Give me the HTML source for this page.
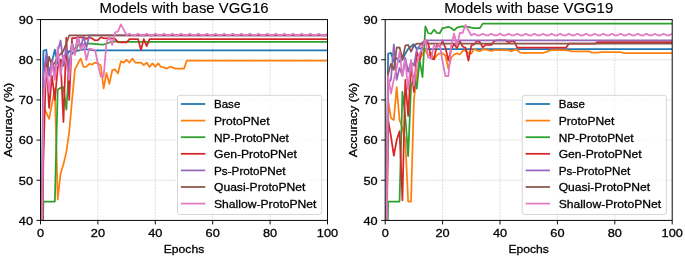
<!DOCTYPE html>
<html><head><meta charset="utf-8"><style>html,body{margin:0;padding:0;background:#fff;width:685px;height:258px;overflow:hidden}svg{display:block;will-change:transform}</style></head>
<body><svg width="685" height="258" viewBox="0 0 685 258">
<rect width="685" height="258" fill="#fff"/>
<clipPath id="c0"><rect x="40.5" y="19.6" width="287.0" height="200.8"/></clipPath>
<path d="M40.50 19.6V220.4M97.90 19.6V220.4M155.30 19.6V220.4M212.70 19.6V220.4M270.10 19.6V220.4M327.50 19.6V220.4M40.5 220.40H327.5M40.5 180.24H327.5M40.5 140.08H327.5M40.5 99.92H327.5M40.5 59.76H327.5M40.5 19.60H327.5" stroke="#b0b0b0" stroke-opacity="0.45" stroke-width="0.9" stroke-dasharray="2.2 0.9" fill="none"/>
<g clip-path="url(#c0)" fill="none" stroke-width="1.75" stroke-linejoin="round" stroke-linecap="butt">
<path d="M40.50,379.03 43.37,50.92 46.24,49.72 49.11,73.82 51.98,61.77 54.85,49.72 57.72,63.78 60.59,59.36 63.46,65.78 66.33,56.55 69.20,50.92 72.07,53.74 74.94,51.33 77.81,50.52 80.68,50.12 83.55,49.32 86.42,49.32 89.29,49.72 92.16,50.12 95.03,50.52 97.90,50.40 100.77,50.40 103.64,50.40 106.51,50.40 109.38,50.40 112.25,50.40 115.12,50.40 117.99,50.40 120.86,50.40 123.73,50.40 126.60,50.40 129.47,50.40 132.34,50.40 135.21,50.40 138.08,50.40 140.95,50.40 143.82,50.40 146.69,50.40 149.56,50.40 152.43,50.40 155.30,50.40 158.17,50.40 161.04,50.40 163.91,50.40 166.78,50.40 169.65,50.40 172.52,50.40 175.39,50.40 178.26,50.40 181.13,50.40 184.00,50.40 186.87,50.40 189.74,50.40 192.61,50.40 195.48,50.40 198.35,50.40 201.22,50.40 204.09,50.40 206.96,50.40 209.83,50.40 212.70,50.40 215.57,50.40 218.44,50.40 221.31,50.40 224.18,50.40 227.05,50.40 229.92,50.40 232.79,50.40 235.66,50.40 238.53,50.40 241.40,50.40 244.27,50.40 247.14,50.40 250.01,50.40 252.88,50.40 255.75,50.40 258.62,50.40 261.49,50.40 264.36,50.40 267.23,50.40 270.10,50.40 272.97,50.40 275.84,50.40 278.71,50.40 281.58,50.40 284.45,50.40 287.32,50.40 290.19,50.40 293.06,50.40 295.93,50.40 298.80,50.40 301.67,50.40 304.54,50.40 307.41,50.40 310.28,50.40 313.15,50.40 316.02,50.40 318.89,50.40 321.76,50.40 324.63,50.40 327.50,50.40" stroke="#1f77b4"/>
<path d="M40.50,379.03 43.37,106.35 46.24,112.37 49.11,118.80 51.98,103.94 54.85,88.68 57.72,199.52 60.59,173.41 63.46,164.18 66.33,152.13 69.20,132.05 72.07,99.92 74.94,69.40 77.81,63.78 80.68,58.56 83.55,66.99 86.42,66.59 89.29,63.78 92.16,64.58 95.03,62.57 97.90,63.37 100.77,65.38 103.64,88.27 106.51,73.01 109.38,83.86 112.25,70.20 115.12,69.40 117.99,73.41 120.86,61.37 123.73,62.57 126.60,59.76 129.47,62.57 132.34,58.56 135.21,62.57 138.08,62.57 140.95,62.57 143.82,64.98 146.69,62.57 149.56,66.99 152.43,63.37 155.30,66.59 158.17,63.37 161.04,66.99 163.91,67.39 166.78,68.60 169.65,66.99 172.52,67.39 175.39,68.60 178.26,68.60 181.13,68.60 184.00,68.60 186.87,60.56 189.74,60.56 192.61,60.56 195.48,60.56 198.35,60.56 201.22,60.56 204.09,60.56 206.96,60.56 209.83,60.56 212.70,60.56 215.57,60.56 218.44,60.56 221.31,60.56 224.18,60.56 227.05,60.56 229.92,60.56 232.79,60.56 235.66,60.56 238.53,60.56 241.40,60.56 244.27,60.56 247.14,60.56 250.01,60.56 252.88,60.56 255.75,60.56 258.62,60.56 261.49,60.56 264.36,60.56 267.23,60.56 270.10,60.56 272.97,60.56 275.84,60.56 278.71,60.56 281.58,60.56 284.45,60.56 287.32,60.56 290.19,60.56 293.06,60.56 295.93,60.56 298.80,60.56 301.67,60.56 304.54,60.56 307.41,60.56 310.28,60.56 313.15,60.56 316.02,60.56 318.89,60.56 321.76,60.56 324.63,60.56 327.50,60.56" stroke="#ff7f0e"/>
<path d="M40.50,379.03 43.37,201.52 46.24,201.52 49.11,201.52 51.98,201.52 54.85,201.52 57.72,89.48 60.59,87.87 63.46,87.07 66.33,109.56 69.20,67.79 72.07,42.49 74.94,53.74 77.81,45.30 80.68,44.50 83.55,44.10 86.42,43.70 89.29,43.70 92.16,43.70 95.03,44.10 97.90,44.10 100.77,44.50 103.64,44.50 106.51,43.70 109.38,42.49 112.25,41.69 115.12,41.29 117.99,41.89 120.86,41.89 123.73,41.89 126.60,41.89 129.47,41.89 132.34,41.89 135.21,41.89 138.08,41.89 140.95,41.89 143.82,41.89 146.69,41.89 149.56,41.89 152.43,41.89 155.30,41.89 158.17,41.89 161.04,41.89 163.91,41.89 166.78,41.89 169.65,41.89 172.52,41.89 175.39,41.89 178.26,41.89 181.13,41.89 184.00,41.89 186.87,41.89 189.74,41.89 192.61,41.89 195.48,41.89 198.35,41.89 201.22,41.89 204.09,41.89 206.96,41.89 209.83,41.89 212.70,41.89 215.57,41.89 218.44,41.89 221.31,41.89 224.18,41.89 227.05,41.89 229.92,41.89 232.79,41.89 235.66,41.89 238.53,41.89 241.40,41.89 244.27,41.89 247.14,41.89 250.01,41.89 252.88,41.89 255.75,41.89 258.62,41.89 261.49,41.89 264.36,41.89 267.23,41.89 270.10,41.89 272.97,41.89 275.84,41.89 278.71,41.89 281.58,41.89 284.45,41.89 287.32,41.89 290.19,41.89 293.06,41.89 295.93,41.89 298.80,41.89 301.67,41.89 304.54,41.89 307.41,41.89 310.28,41.89 313.15,41.89 316.02,41.89 318.89,41.89 321.76,41.89 324.63,41.89 327.50,41.89" stroke="#2ca02c"/>
<path d="M40.50,379.03 43.37,160.16 46.24,59.76 49.11,107.95 51.98,75.82 54.85,99.92 57.72,67.79 60.59,59.76 63.46,122.01 66.33,37.67 69.20,99.92 72.07,38.07 74.94,38.07 77.81,37.27 80.68,37.27 83.55,37.27 86.42,38.88 89.29,37.27 92.16,38.48 95.03,40.48 97.90,40.08 100.77,37.27 103.64,38.07 106.51,38.48 109.38,38.48 112.25,38.48 115.12,38.88 117.99,42.09 120.86,42.49 123.73,42.49 126.60,42.49 129.47,39.08 132.34,39.08 135.21,39.08 138.08,39.08 140.95,50.12 143.82,39.08 146.69,46.11 149.56,39.08 152.43,39.08 155.30,39.08 158.17,39.08 161.04,39.08 163.91,39.08 166.78,39.08 169.65,39.08 172.52,39.08 175.39,39.08 178.26,39.08 181.13,39.08 184.00,39.08 186.87,39.08 189.74,39.08 192.61,39.08 195.48,39.08 198.35,39.08 201.22,39.08 204.09,39.08 206.96,39.08 209.83,39.08 212.70,39.08 215.57,39.08 218.44,39.08 221.31,39.08 224.18,39.08 227.05,39.08 229.92,39.08 232.79,39.08 235.66,39.08 238.53,39.08 241.40,39.08 244.27,39.08 247.14,39.08 250.01,39.08 252.88,39.08 255.75,39.08 258.62,39.08 261.49,39.08 264.36,39.08 267.23,39.08 270.10,39.08 272.97,39.08 275.84,39.08 278.71,39.08 281.58,39.08 284.45,39.08 287.32,39.08 290.19,39.08 293.06,39.08 295.93,39.08 298.80,39.08 301.67,39.08 304.54,39.08 307.41,39.08 310.28,39.08 313.15,39.08 316.02,39.08 318.89,39.08 321.76,39.08 324.63,39.08 327.50,39.08" stroke="#d62728"/>
<path d="M40.50,379.03 43.37,75.82 46.24,53.74 49.11,75.82 51.98,59.76 54.85,71.81 57.72,51.73 60.59,40.48 63.46,63.78 66.33,47.71 69.20,67.79 72.07,43.70 74.94,51.33 77.81,36.47 80.68,47.31 83.55,36.47 86.42,47.71 89.29,35.46 92.16,35.46 95.03,35.46 97.90,35.46 100.77,35.46 103.64,35.46 106.51,35.46 109.38,35.46 112.25,35.46 115.12,35.46 117.99,35.46 120.86,35.46 123.73,35.46 126.60,35.46 129.47,35.46 132.34,35.46 135.21,35.46 138.08,35.46 140.95,35.46 143.82,35.46 146.69,35.46 149.56,35.46 152.43,35.46 155.30,35.46 158.17,35.46 161.04,35.46 163.91,35.46 166.78,35.46 169.65,35.46 172.52,35.46 175.39,35.46 178.26,35.46 181.13,35.46 184.00,35.46 186.87,35.46 189.74,35.46 192.61,35.46 195.48,35.46 198.35,35.46 201.22,35.46 204.09,35.46 206.96,35.46 209.83,35.46 212.70,35.46 215.57,35.46 218.44,35.46 221.31,35.46 224.18,35.46 227.05,35.46 229.92,35.46 232.79,35.46 235.66,35.46 238.53,35.46 241.40,35.46 244.27,35.46 247.14,35.46 250.01,35.46 252.88,35.46 255.75,35.46 258.62,35.46 261.49,35.46 264.36,35.46 267.23,35.46 270.10,35.46 272.97,35.46 275.84,35.46 278.71,35.46 281.58,35.46 284.45,35.46 287.32,35.46 290.19,35.46 293.06,35.46 295.93,35.46 298.80,35.46 301.67,35.46 304.54,35.46 307.41,35.46 310.28,35.46 313.15,35.46 316.02,35.46 318.89,35.46 321.76,35.46 324.63,35.46 327.50,35.46" stroke="#9467bd"/>
<path d="M40.50,379.03 43.37,91.89 46.24,75.82 49.11,56.55 51.98,65.78 54.85,62.97 57.72,56.55 60.59,54.14 63.46,50.92 66.33,43.29 69.20,35.46 72.07,35.46 74.94,35.46 77.81,35.46 80.68,35.46 83.55,35.46 86.42,35.46 89.29,35.46 92.16,35.46 95.03,35.46 97.90,35.46 100.77,35.46 103.64,35.46 106.51,35.46 109.38,35.46 112.25,35.46 115.12,35.46 117.99,35.46 120.86,35.46 123.73,35.46 126.60,35.46 129.47,35.46 132.34,35.46 135.21,35.46 138.08,35.46 140.95,35.46 143.82,35.46 146.69,35.46 149.56,35.46 152.43,35.46 155.30,35.46 158.17,35.46 161.04,35.46 163.91,35.46 166.78,35.46 169.65,35.46 172.52,35.46 175.39,35.46 178.26,35.46 181.13,35.46 184.00,35.46 186.87,35.46 189.74,35.46 192.61,35.46 195.48,35.46 198.35,35.46 201.22,35.46 204.09,35.46 206.96,35.46 209.83,35.46 212.70,35.46 215.57,35.46 218.44,35.46 221.31,35.46 224.18,35.46 227.05,35.46 229.92,35.46 232.79,35.46 235.66,35.46 238.53,35.46 241.40,35.46 244.27,35.46 247.14,35.46 250.01,35.46 252.88,35.46 255.75,35.46 258.62,35.46 261.49,35.46 264.36,35.46 267.23,35.46 270.10,35.46 272.97,35.46 275.84,35.46 278.71,35.46 281.58,35.46 284.45,35.46 287.32,35.46 290.19,35.46 293.06,35.46 295.93,35.46 298.80,35.46 301.67,35.46 304.54,35.46 307.41,35.46 310.28,35.46 313.15,35.46 316.02,35.46 318.89,35.46 321.76,35.46 324.63,35.46 327.50,35.46" stroke="#8c564b"/>
<path d="M40.50,379.03 43.37,99.92 46.24,67.79 49.11,91.89 51.98,62.97 54.85,79.84 57.72,47.31 60.59,75.82 63.46,55.74 66.33,63.78 69.20,79.84 72.07,44.10 74.94,54.94 77.81,37.27 80.68,50.12 83.55,43.70 86.42,60.16 89.29,48.52 92.16,49.32 95.03,50.12 97.90,63.78 100.77,76.63 103.64,76.63 106.51,42.09 109.38,37.27 112.25,44.90 115.12,32.25 117.99,31.65 120.86,24.42 123.73,29.64 126.60,35.26 129.47,33.66 132.34,35.26 135.21,35.26 138.08,33.66 140.95,35.26 143.82,35.26 146.69,33.66 149.56,35.26 152.43,35.26 155.30,33.66 158.17,35.26 161.04,35.26 163.91,33.66 166.78,35.26 169.65,35.26 172.52,33.66 175.39,35.26 178.26,35.26 181.13,33.66 184.00,35.26 186.87,35.26 189.74,33.66 192.61,35.26 195.48,35.26 198.35,33.66 201.22,35.26 204.09,35.26 206.96,33.66 209.83,35.26 212.70,35.26 215.57,33.66 218.44,35.26 221.31,35.26 224.18,33.66 227.05,35.26 229.92,35.26 232.79,33.66 235.66,35.26 238.53,35.26 241.40,33.66 244.27,35.26 247.14,35.26 250.01,33.66 252.88,35.26 255.75,35.26 258.62,33.66 261.49,35.26 264.36,35.26 267.23,33.66 270.10,35.26 272.97,35.26 275.84,33.66 278.71,35.26 281.58,35.26 284.45,33.66 287.32,35.26 290.19,35.26 293.06,33.66 295.93,35.26 298.80,35.26 301.67,33.66 304.54,35.26 307.41,35.26 310.28,33.66 313.15,35.26 316.02,35.26 318.89,33.66 321.76,35.26 324.63,35.26 327.50,33.66" stroke="#e377c2"/>
</g>
<path d="M40.50 220.4v4M97.90 220.4v4M155.30 220.4v4M212.70 220.4v4M270.10 220.4v4M327.50 220.4v4M40.5 220.40h-4M40.5 180.24h-4M40.5 140.08h-4M40.5 99.92h-4M40.5 59.76h-4M40.5 19.60h-4" stroke="#000" stroke-width="0.95" fill="none"/>
<rect x="40.5" y="19.6" width="287.0" height="200.8" fill="none" stroke="#000" stroke-width="0.95"/>
<text x="40.50" y="236.8" text-anchor="middle" font-family="Liberation Sans, sans-serif" stroke="#000" stroke-width="0.3" font-size="11.8" textLength="7.1" lengthAdjust="spacingAndGlyphs">0</text>
<text x="97.90" y="236.8" text-anchor="middle" font-family="Liberation Sans, sans-serif" stroke="#000" stroke-width="0.3" font-size="11.8" textLength="14.2" lengthAdjust="spacingAndGlyphs">20</text>
<text x="155.30" y="236.8" text-anchor="middle" font-family="Liberation Sans, sans-serif" stroke="#000" stroke-width="0.3" font-size="11.8" textLength="14.2" lengthAdjust="spacingAndGlyphs">40</text>
<text x="212.70" y="236.8" text-anchor="middle" font-family="Liberation Sans, sans-serif" stroke="#000" stroke-width="0.3" font-size="11.8" textLength="14.2" lengthAdjust="spacingAndGlyphs">60</text>
<text x="270.10" y="236.8" text-anchor="middle" font-family="Liberation Sans, sans-serif" stroke="#000" stroke-width="0.3" font-size="11.8" textLength="14.2" lengthAdjust="spacingAndGlyphs">80</text>
<text x="327.50" y="236.8" text-anchor="middle" font-family="Liberation Sans, sans-serif" stroke="#000" stroke-width="0.3" font-size="11.8" textLength="21.3" lengthAdjust="spacingAndGlyphs">100</text>
<text x="33.00" y="224.70" text-anchor="end" font-family="Liberation Sans, sans-serif" stroke="#000" stroke-width="0.3" font-size="11.8" textLength="14.2" lengthAdjust="spacingAndGlyphs">40</text>
<text x="33.00" y="184.54" text-anchor="end" font-family="Liberation Sans, sans-serif" stroke="#000" stroke-width="0.3" font-size="11.8" textLength="14.2" lengthAdjust="spacingAndGlyphs">50</text>
<text x="33.00" y="144.38" text-anchor="end" font-family="Liberation Sans, sans-serif" stroke="#000" stroke-width="0.3" font-size="11.8" textLength="14.2" lengthAdjust="spacingAndGlyphs">60</text>
<text x="33.00" y="104.22" text-anchor="end" font-family="Liberation Sans, sans-serif" stroke="#000" stroke-width="0.3" font-size="11.8" textLength="14.2" lengthAdjust="spacingAndGlyphs">70</text>
<text x="33.00" y="64.06" text-anchor="end" font-family="Liberation Sans, sans-serif" stroke="#000" stroke-width="0.3" font-size="11.8" textLength="14.2" lengthAdjust="spacingAndGlyphs">80</text>
<text x="33.00" y="23.90" text-anchor="end" font-family="Liberation Sans, sans-serif" stroke="#000" stroke-width="0.3" font-size="11.8" textLength="14.2" lengthAdjust="spacingAndGlyphs">90</text>
<text x="184.00" y="12.9" text-anchor="middle" font-family="Liberation Sans, sans-serif" stroke="#000" stroke-width="0.12" font-size="13.9" textLength="169" lengthAdjust="spacingAndGlyphs">Models with base VGG16</text>
<text x="184.00" y="252.5" text-anchor="middle" font-family="Liberation Sans, sans-serif" stroke="#000" stroke-width="0.3" font-size="11.8" textLength="40.5" lengthAdjust="spacingAndGlyphs">Epochs</text>
<text transform="translate(12.30,120) rotate(-90)" x="0" y="0" text-anchor="middle" font-family="Liberation Sans, sans-serif" stroke="#000" stroke-width="0.3" font-size="11.8" textLength="74.5" lengthAdjust="spacingAndGlyphs">Accuracy (%)</text>
<rect x="177.5" y="95.3" width="144.2" height="119.2" rx="2.5" fill="#fff" fill-opacity="0.8" stroke="#d4d4d4" stroke-width="0.95"/>
<path d="M180.90 104.00h24.4" stroke="#1f77b4" stroke-width="1.75"/>
<text x="214.00" y="108.30" font-family="Liberation Sans, sans-serif" stroke="#000" stroke-width="0.3" font-size="11.8" textLength="26.3" lengthAdjust="spacingAndGlyphs">Base</text>
<path d="M180.90 120.60h24.4" stroke="#ff7f0e" stroke-width="1.75"/>
<text x="214.00" y="124.90" font-family="Liberation Sans, sans-serif" stroke="#000" stroke-width="0.3" font-size="11.8" textLength="55.6" lengthAdjust="spacingAndGlyphs">ProtoPNet</text>
<path d="M180.90 137.20h24.4" stroke="#2ca02c" stroke-width="1.75"/>
<text x="214.00" y="141.50" font-family="Liberation Sans, sans-serif" stroke="#000" stroke-width="0.3" font-size="11.8" textLength="74.8" lengthAdjust="spacingAndGlyphs">NP-ProtoPNet</text>
<path d="M180.90 153.80h24.4" stroke="#d62728" stroke-width="1.75"/>
<text x="214.00" y="158.10" font-family="Liberation Sans, sans-serif" stroke="#000" stroke-width="0.3" font-size="11.8" textLength="82.9" lengthAdjust="spacingAndGlyphs">Gen-ProtoPNet</text>
<path d="M180.90 170.40h24.4" stroke="#9467bd" stroke-width="1.75"/>
<text x="214.00" y="174.70" font-family="Liberation Sans, sans-serif" stroke="#000" stroke-width="0.3" font-size="11.8" textLength="71.6" lengthAdjust="spacingAndGlyphs">Ps-ProtoPNet</text>
<path d="M180.90 187.00h24.4" stroke="#8c564b" stroke-width="1.75"/>
<text x="214.00" y="191.30" font-family="Liberation Sans, sans-serif" stroke="#000" stroke-width="0.3" font-size="11.8" textLength="91.4" lengthAdjust="spacingAndGlyphs">Quasi-ProtoPNet</text>
<path d="M180.90 203.60h24.4" stroke="#e377c2" stroke-width="1.75"/>
<text x="214.00" y="207.90" font-family="Liberation Sans, sans-serif" stroke="#000" stroke-width="0.3" font-size="11.8" textLength="102.5" lengthAdjust="spacingAndGlyphs">Shallow-ProtoPNet</text>
<clipPath id="c1"><rect x="385.2" y="19.6" width="287.0" height="200.8"/></clipPath>
<path d="M385.20 19.6V220.4M442.60 19.6V220.4M500.00 19.6V220.4M557.40 19.6V220.4M614.80 19.6V220.4M672.20 19.6V220.4M385.2 220.40H672.2M385.2 180.24H672.2M385.2 140.08H672.2M385.2 99.92H672.2M385.2 59.76H672.2M385.2 19.60H672.2" stroke="#b0b0b0" stroke-opacity="0.45" stroke-width="0.9" stroke-dasharray="2.2 0.9" fill="none"/>
<g clip-path="url(#c1)" fill="none" stroke-width="1.75" stroke-linejoin="round" stroke-linecap="butt">
<path d="M385.20,379.03 388.07,53.74 390.94,52.93 393.81,61.37 396.68,58.15 399.55,61.77 402.42,59.76 405.29,53.74 408.16,48.92 411.03,46.51 413.90,44.30 416.77,48.92 419.64,48.11 422.51,48.92 425.38,49.12 428.25,49.12 431.12,49.12 433.99,49.12 436.86,49.12 439.73,49.12 442.60,49.12 445.47,49.12 448.34,49.12 451.21,49.12 454.08,49.12 456.95,49.12 459.82,49.12 462.69,49.12 465.56,49.12 468.43,49.12 471.30,49.12 474.17,49.12 477.04,49.12 479.91,49.12 482.78,49.12 485.65,49.12 488.52,49.12 491.39,49.12 494.26,49.12 497.13,49.12 500.00,49.12 502.87,49.12 505.74,49.12 508.61,49.12 511.48,49.12 514.35,49.12 517.22,49.12 520.09,49.12 522.96,49.12 525.83,49.12 528.70,49.12 531.57,49.12 534.44,49.12 537.31,49.12 540.18,49.12 543.05,49.12 545.92,49.12 548.79,49.12 551.66,49.12 554.53,49.12 557.40,49.12 560.27,49.12 563.14,49.12 566.01,49.12 568.88,49.12 571.75,49.12 574.62,49.12 577.49,49.12 580.36,49.12 583.23,49.12 586.10,49.12 588.97,49.12 591.84,49.12 594.71,49.12 597.58,49.12 600.45,49.12 603.32,49.12 606.19,49.12 609.06,49.12 611.93,49.12 614.80,49.12 617.67,49.12 620.54,49.12 623.41,49.12 626.28,49.12 629.15,49.12 632.02,49.12 634.89,49.12 637.76,49.12 640.63,49.12 643.50,49.12 646.37,49.12 649.24,49.12 652.11,49.12 654.98,49.12 657.85,49.12 660.72,49.12 663.59,49.12 666.46,49.12 669.33,49.12 672.20,49.12" stroke="#1f77b4"/>
<path d="M385.20,379.03 388.07,99.92 390.94,117.99 393.81,120.00 396.68,87.07 399.55,120.00 402.42,128.03 405.29,140.08 408.16,201.52 411.03,201.52 413.90,99.92 416.77,75.82 419.64,59.76 422.51,53.74 425.38,49.72 428.25,56.55 431.12,52.93 433.99,58.96 436.86,55.34 439.73,53.33 442.60,53.33 445.47,55.74 448.34,68.60 451.21,57.75 454.08,54.54 456.95,53.33 459.82,54.54 462.69,50.92 465.56,50.12 468.43,53.33 471.30,53.74 474.17,48.92 477.04,50.52 479.91,51.33 482.78,49.32 485.65,49.72 488.52,50.12 491.39,50.92 494.26,50.12 497.13,50.12 500.00,50.12 502.87,50.12 505.74,50.12 508.61,50.12 511.48,51.33 514.35,49.72 517.22,50.12 520.09,52.53 522.96,52.93 525.83,52.93 528.70,52.93 531.57,52.93 534.44,52.93 537.31,52.93 540.18,52.93 543.05,52.93 545.92,52.13 548.79,50.92 551.66,50.12 554.53,50.12 557.40,50.12 560.27,50.12 563.14,50.12 566.01,50.12 568.88,50.52 571.75,51.33 574.62,51.33 577.49,51.33 580.36,51.33 583.23,51.33 586.10,51.33 588.97,51.33 591.84,52.53 594.71,52.53 597.58,52.53 600.45,52.13 603.32,52.13 606.19,52.13 609.06,52.13 611.93,52.13 614.80,52.13 617.67,52.13 620.54,52.13 623.41,53.01 626.28,53.01 629.15,53.01 632.02,53.01 634.89,53.01 637.76,53.01 640.63,53.01 643.50,53.01 646.37,53.01 649.24,53.01 652.11,53.01 654.98,53.01 657.85,53.01 660.72,53.01 663.59,53.01 666.46,53.01 669.33,53.01 672.20,53.01" stroke="#ff7f0e"/>
<path d="M385.20,379.03 388.07,201.52 390.94,201.52 393.81,201.52 396.68,201.52 399.55,201.52 402.42,91.89 405.29,115.98 408.16,156.14 411.03,86.27 413.90,75.82 416.77,88.68 419.64,60.16 422.51,77.03 425.38,26.43 428.25,33.25 431.12,33.66 433.99,29.64 436.86,32.85 439.73,33.25 442.60,28.03 445.47,27.63 448.34,26.83 451.21,28.03 454.08,30.44 456.95,27.63 459.82,26.83 462.69,26.43 465.56,26.83 468.43,26.83 471.30,27.63 474.17,28.03 477.04,28.03 479.91,28.03 482.78,23.62 485.65,23.62 488.52,23.62 491.39,23.62 494.26,23.62 497.13,23.62 500.00,23.62 502.87,23.62 505.74,23.62 508.61,23.62 511.48,23.62 514.35,23.62 517.22,23.62 520.09,23.62 522.96,23.62 525.83,23.62 528.70,23.62 531.57,23.62 534.44,23.62 537.31,23.62 540.18,23.62 543.05,23.62 545.92,23.62 548.79,23.62 551.66,23.62 554.53,23.62 557.40,23.62 560.27,23.62 563.14,23.62 566.01,23.62 568.88,23.62 571.75,23.62 574.62,23.62 577.49,23.62 580.36,23.62 583.23,23.62 586.10,23.62 588.97,23.62 591.84,23.62 594.71,23.62 597.58,23.62 600.45,23.62 603.32,23.62 606.19,23.62 609.06,23.62 611.93,23.62 614.80,23.62 617.67,23.62 620.54,23.62 623.41,23.62 626.28,23.62 629.15,23.62 632.02,23.62 634.89,23.62 637.76,23.62 640.63,23.62 643.50,23.62 646.37,23.62 649.24,23.62 652.11,23.62 654.98,23.62 657.85,23.62 660.72,23.62 663.59,23.62 666.46,23.62 669.33,23.62 672.20,23.62" stroke="#2ca02c"/>
<path d="M385.20,379.03 388.07,119.60 390.94,136.06 393.81,155.74 396.68,140.08 399.55,131.24 402.42,200.32 405.29,79.84 408.16,115.98 411.03,63.78 413.90,91.89 416.77,51.73 419.64,59.76 422.51,45.70 425.38,39.68 428.25,43.29 431.12,58.15 433.99,59.36 436.86,45.30 439.73,46.51 442.60,41.29 445.47,47.71 448.34,60.56 451.21,48.92 454.08,44.10 456.95,48.11 459.82,41.29 462.69,46.51 465.56,47.71 468.43,60.56 471.30,45.30 474.17,44.50 477.04,40.88 479.91,42.09 482.78,47.31 485.65,44.90 488.52,44.90 491.39,44.90 494.26,40.88 497.13,40.48 500.00,40.48 502.87,40.48 505.74,40.48 508.61,42.49 511.48,41.29 514.35,41.29 517.22,47.71 520.09,47.71 522.96,47.71 525.83,47.71 528.70,47.71 531.57,47.71 534.44,47.71 537.31,47.71 540.18,47.71 543.05,47.71 545.92,47.71 548.79,47.71 551.66,47.71 554.53,47.71 557.40,47.71 560.27,47.71 563.14,47.71 566.01,47.71 568.88,43.70 571.75,43.70 574.62,43.70 577.49,43.70 580.36,43.70 583.23,43.70 586.10,43.70 588.97,43.70 591.84,43.70 594.71,43.70 597.58,42.09 600.45,42.09 603.32,42.09 606.19,42.09 609.06,42.09 611.93,42.09 614.80,42.09 617.67,42.09 620.54,42.09 623.41,42.09 626.28,42.09 629.15,42.09 632.02,42.09 634.89,42.09 637.76,42.09 640.63,42.09 643.50,42.09 646.37,42.09 649.24,42.09 652.11,42.09 654.98,42.09 657.85,42.09 660.72,42.09 663.59,42.09 666.46,42.09 669.33,42.09 672.20,42.09" stroke="#d62728"/>
<path d="M385.20,379.03 388.07,83.86 390.94,79.84 393.81,44.30 396.68,79.84 399.55,67.79 402.42,75.82 405.29,57.75 408.16,71.81 411.03,61.77 413.90,65.78 416.77,49.72 419.64,45.70 422.51,42.49 425.38,40.28 428.25,40.28 431.12,40.28 433.99,40.28 436.86,40.28 439.73,40.28 442.60,40.28 445.47,40.28 448.34,40.28 451.21,40.28 454.08,40.28 456.95,40.28 459.82,40.28 462.69,40.28 465.56,40.28 468.43,40.28 471.30,40.28 474.17,40.28 477.04,40.28 479.91,40.28 482.78,40.28 485.65,40.28 488.52,40.28 491.39,40.28 494.26,40.28 497.13,40.28 500.00,40.28 502.87,40.28 505.74,40.28 508.61,40.28 511.48,40.28 514.35,40.28 517.22,40.28 520.09,40.28 522.96,40.28 525.83,40.28 528.70,40.28 531.57,40.28 534.44,40.28 537.31,40.28 540.18,40.28 543.05,40.28 545.92,40.28 548.79,40.28 551.66,40.28 554.53,40.28 557.40,40.28 560.27,40.28 563.14,40.28 566.01,40.28 568.88,40.28 571.75,40.28 574.62,40.28 577.49,40.28 580.36,40.28 583.23,40.28 586.10,40.28 588.97,40.28 591.84,40.28 594.71,40.28 597.58,40.28 600.45,40.28 603.32,40.28 606.19,40.28 609.06,40.28 611.93,40.28 614.80,40.28 617.67,40.28 620.54,40.28 623.41,40.28 626.28,40.28 629.15,40.28 632.02,40.28 634.89,40.28 637.76,40.28 640.63,40.28 643.50,40.28 646.37,40.28 649.24,40.28 652.11,40.28 654.98,40.28 657.85,40.28 660.72,40.28 663.59,40.28 666.46,40.28 669.33,40.28 672.20,40.28" stroke="#9467bd"/>
<path d="M385.20,379.03 388.07,74.22 390.94,63.78 393.81,69.80 396.68,47.71 399.55,47.31 402.42,59.36 405.29,45.70 408.16,44.90 411.03,51.73 413.90,45.70 416.77,43.70 419.64,43.70 422.51,43.70 425.38,43.70 428.25,43.70 431.12,43.70 433.99,43.70 436.86,43.70 439.73,43.70 442.60,43.70 445.47,43.70 448.34,43.70 451.21,43.70 454.08,43.70 456.95,43.70 459.82,43.70 462.69,43.70 465.56,43.70 468.43,43.70 471.30,43.70 474.17,43.70 477.04,43.70 479.91,43.70 482.78,43.70 485.65,43.70 488.52,43.70 491.39,43.70 494.26,43.70 497.13,43.70 500.00,43.70 502.87,43.70 505.74,43.70 508.61,43.70 511.48,43.70 514.35,43.70 517.22,43.70 520.09,43.70 522.96,43.70 525.83,43.70 528.70,43.70 531.57,43.70 534.44,43.70 537.31,43.70 540.18,43.70 543.05,43.70 545.92,43.70 548.79,43.70 551.66,43.70 554.53,43.70 557.40,43.70 560.27,43.70 563.14,43.70 566.01,43.70 568.88,43.70 571.75,43.70 574.62,43.70 577.49,43.70 580.36,43.70 583.23,43.70 586.10,43.70 588.97,43.70 591.84,43.70 594.71,43.70 597.58,43.70 600.45,43.70 603.32,43.70 606.19,43.70 609.06,43.70 611.93,43.70 614.80,43.70 617.67,43.70 620.54,43.70 623.41,43.70 626.28,43.70 629.15,43.70 632.02,43.70 634.89,43.70 637.76,43.70 640.63,43.70 643.50,43.70 646.37,43.70 649.24,43.70 652.11,43.70 654.98,43.70 657.85,43.70 660.72,43.70 663.59,43.70 666.46,43.70 669.33,43.70 672.20,43.70" stroke="#8c564b"/>
<path d="M385.20,379.03 388.07,75.82 390.94,93.49 393.81,79.84 396.68,67.79 399.55,51.73 402.42,75.82 405.29,59.76 408.16,89.88 411.03,59.76 413.90,85.86 416.77,63.78 419.64,53.74 422.51,47.71 425.38,39.68 428.25,57.35 431.12,58.56 433.99,45.30 436.86,47.71 439.73,43.70 442.60,61.77 445.47,76.23 448.34,76.23 451.21,45.70 454.08,33.66 456.95,45.70 459.82,32.85 462.69,32.85 465.56,24.82 468.43,30.44 471.30,35.26 474.17,33.66 477.04,35.26 479.91,35.26 482.78,33.66 485.65,35.26 488.52,35.26 491.39,33.66 494.26,35.26 497.13,35.26 500.00,33.66 502.87,35.26 505.74,35.26 508.61,33.66 511.48,35.26 514.35,35.26 517.22,33.66 520.09,35.26 522.96,35.26 525.83,33.66 528.70,35.26 531.57,35.26 534.44,33.66 537.31,35.26 540.18,35.26 543.05,33.66 545.92,35.26 548.79,35.26 551.66,33.66 554.53,35.26 557.40,35.26 560.27,33.66 563.14,35.26 566.01,35.26 568.88,33.66 571.75,35.26 574.62,35.26 577.49,33.66 580.36,35.26 583.23,35.26 586.10,33.66 588.97,35.26 591.84,35.26 594.71,33.66 597.58,35.26 600.45,35.26 603.32,33.66 606.19,35.26 609.06,35.26 611.93,33.66 614.80,35.26 617.67,35.26 620.54,33.66 623.41,35.26 626.28,35.26 629.15,33.66 632.02,35.26 634.89,35.26 637.76,33.66 640.63,35.26 643.50,35.26 646.37,33.66 649.24,35.26 652.11,35.26 654.98,33.66 657.85,35.26 660.72,35.26 663.59,33.66 666.46,35.26 669.33,35.26 672.20,33.66" stroke="#e377c2"/>
</g>
<path d="M385.20 220.4v4M442.60 220.4v4M500.00 220.4v4M557.40 220.4v4M614.80 220.4v4M672.20 220.4v4M385.2 220.40h-4M385.2 180.24h-4M385.2 140.08h-4M385.2 99.92h-4M385.2 59.76h-4M385.2 19.60h-4" stroke="#000" stroke-width="0.95" fill="none"/>
<rect x="385.2" y="19.6" width="287.0" height="200.8" fill="none" stroke="#000" stroke-width="0.95"/>
<text x="385.20" y="236.8" text-anchor="middle" font-family="Liberation Sans, sans-serif" stroke="#000" stroke-width="0.3" font-size="11.8" textLength="7.1" lengthAdjust="spacingAndGlyphs">0</text>
<text x="442.60" y="236.8" text-anchor="middle" font-family="Liberation Sans, sans-serif" stroke="#000" stroke-width="0.3" font-size="11.8" textLength="14.2" lengthAdjust="spacingAndGlyphs">20</text>
<text x="500.00" y="236.8" text-anchor="middle" font-family="Liberation Sans, sans-serif" stroke="#000" stroke-width="0.3" font-size="11.8" textLength="14.2" lengthAdjust="spacingAndGlyphs">40</text>
<text x="557.40" y="236.8" text-anchor="middle" font-family="Liberation Sans, sans-serif" stroke="#000" stroke-width="0.3" font-size="11.8" textLength="14.2" lengthAdjust="spacingAndGlyphs">60</text>
<text x="614.80" y="236.8" text-anchor="middle" font-family="Liberation Sans, sans-serif" stroke="#000" stroke-width="0.3" font-size="11.8" textLength="14.2" lengthAdjust="spacingAndGlyphs">80</text>
<text x="672.20" y="236.8" text-anchor="middle" font-family="Liberation Sans, sans-serif" stroke="#000" stroke-width="0.3" font-size="11.8" textLength="21.3" lengthAdjust="spacingAndGlyphs">100</text>
<text x="377.70" y="224.70" text-anchor="end" font-family="Liberation Sans, sans-serif" stroke="#000" stroke-width="0.3" font-size="11.8" textLength="14.2" lengthAdjust="spacingAndGlyphs">40</text>
<text x="377.70" y="184.54" text-anchor="end" font-family="Liberation Sans, sans-serif" stroke="#000" stroke-width="0.3" font-size="11.8" textLength="14.2" lengthAdjust="spacingAndGlyphs">50</text>
<text x="377.70" y="144.38" text-anchor="end" font-family="Liberation Sans, sans-serif" stroke="#000" stroke-width="0.3" font-size="11.8" textLength="14.2" lengthAdjust="spacingAndGlyphs">60</text>
<text x="377.70" y="104.22" text-anchor="end" font-family="Liberation Sans, sans-serif" stroke="#000" stroke-width="0.3" font-size="11.8" textLength="14.2" lengthAdjust="spacingAndGlyphs">70</text>
<text x="377.70" y="64.06" text-anchor="end" font-family="Liberation Sans, sans-serif" stroke="#000" stroke-width="0.3" font-size="11.8" textLength="14.2" lengthAdjust="spacingAndGlyphs">80</text>
<text x="377.70" y="23.90" text-anchor="end" font-family="Liberation Sans, sans-serif" stroke="#000" stroke-width="0.3" font-size="11.8" textLength="14.2" lengthAdjust="spacingAndGlyphs">90</text>
<text x="528.70" y="12.9" text-anchor="middle" font-family="Liberation Sans, sans-serif" stroke="#000" stroke-width="0.12" font-size="13.9" textLength="169" lengthAdjust="spacingAndGlyphs">Models with base VGG19</text>
<text x="528.70" y="252.5" text-anchor="middle" font-family="Liberation Sans, sans-serif" stroke="#000" stroke-width="0.3" font-size="11.8" textLength="40.5" lengthAdjust="spacingAndGlyphs">Epochs</text>
<text transform="translate(357.00,120) rotate(-90)" x="0" y="0" text-anchor="middle" font-family="Liberation Sans, sans-serif" stroke="#000" stroke-width="0.3" font-size="11.8" textLength="74.5" lengthAdjust="spacingAndGlyphs">Accuracy (%)</text>
<rect x="522.2" y="95.3" width="144.2" height="119.2" rx="2.5" fill="#fff" fill-opacity="0.8" stroke="#d4d4d4" stroke-width="0.95"/>
<path d="M525.60 104.00h24.4" stroke="#1f77b4" stroke-width="1.75"/>
<text x="558.70" y="108.30" font-family="Liberation Sans, sans-serif" stroke="#000" stroke-width="0.3" font-size="11.8" textLength="26.3" lengthAdjust="spacingAndGlyphs">Base</text>
<path d="M525.60 120.60h24.4" stroke="#ff7f0e" stroke-width="1.75"/>
<text x="558.70" y="124.90" font-family="Liberation Sans, sans-serif" stroke="#000" stroke-width="0.3" font-size="11.8" textLength="55.6" lengthAdjust="spacingAndGlyphs">ProtoPNet</text>
<path d="M525.60 137.20h24.4" stroke="#2ca02c" stroke-width="1.75"/>
<text x="558.70" y="141.50" font-family="Liberation Sans, sans-serif" stroke="#000" stroke-width="0.3" font-size="11.8" textLength="74.8" lengthAdjust="spacingAndGlyphs">NP-ProtoPNet</text>
<path d="M525.60 153.80h24.4" stroke="#d62728" stroke-width="1.75"/>
<text x="558.70" y="158.10" font-family="Liberation Sans, sans-serif" stroke="#000" stroke-width="0.3" font-size="11.8" textLength="82.9" lengthAdjust="spacingAndGlyphs">Gen-ProtoPNet</text>
<path d="M525.60 170.40h24.4" stroke="#9467bd" stroke-width="1.75"/>
<text x="558.70" y="174.70" font-family="Liberation Sans, sans-serif" stroke="#000" stroke-width="0.3" font-size="11.8" textLength="71.6" lengthAdjust="spacingAndGlyphs">Ps-ProtoPNet</text>
<path d="M525.60 187.00h24.4" stroke="#8c564b" stroke-width="1.75"/>
<text x="558.70" y="191.30" font-family="Liberation Sans, sans-serif" stroke="#000" stroke-width="0.3" font-size="11.8" textLength="91.4" lengthAdjust="spacingAndGlyphs">Quasi-ProtoPNet</text>
<path d="M525.60 203.60h24.4" stroke="#e377c2" stroke-width="1.75"/>
<text x="558.70" y="207.90" font-family="Liberation Sans, sans-serif" stroke="#000" stroke-width="0.3" font-size="11.8" textLength="102.5" lengthAdjust="spacingAndGlyphs">Shallow-ProtoPNet</text>
</svg></body></html>
